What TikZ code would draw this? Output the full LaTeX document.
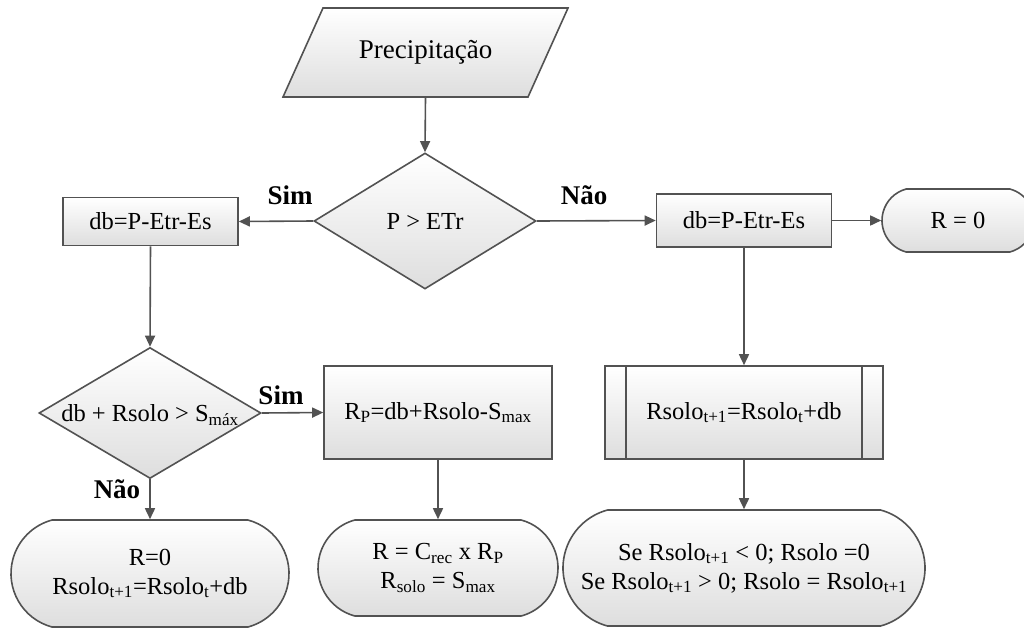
\documentclass[tikz,border=0pt]{standalone}
\usepackage{fontspec}
\setmainfont{Liberation Serif}
\usetikzlibrary{shapes.geometric,shapes.misc,arrows.meta}
\newcommand{\sbs}[1]{\textsubscript{#1}}
\begin{document}
\begin{tikzpicture}[x=1pt,y=-1pt,
  ln/.style={draw=black!68, line width=1.6pt},
  grad/.style={top color=white, bottom color=black!13},
  txt/.style={font=\fontsize{24.5}{29}\selectfont, align=center},
  box/.style={grad, ln, rectangle, inner sep=0pt, txt},
  term/.style={grad, ln, rounded rectangle, rounded rectangle arc length=150, inner sep=0pt, txt},
  dec/.style={grad, ln, diamond, inner sep=0pt},
  arr/.style={ln, -{Triangle[length=11pt,width=10pt]}},
  lbl/.style={font=\bfseries\fontsize{27}{30}\selectfont, anchor=base}
]
\useasboundingbox (0,0) rectangle (1024,632);
\clip (0,0) rectangle (1024,632);

% input parallelogram
\path[grad, ln] (283,97) -- (323,8) -- (568,8) -- (528,97) -- cycle;
\node[txt, font=\fontsize{27}{30}\selectfont, minimum width=245pt, minimum height=89pt, inner sep=0pt] (par) at (425.5,52.5) {Precipitação};

% decisions
\node[dec, minimum width=222pt, minimum height=136pt] (d1) at (425,221) {};
\node[txt] (d1t) at (d1) {P > ETr};
\node[dec, minimum width=222pt, minimum height=131pt] (d2) at (150,413) {};
\node[txt] (d2t) at (150,415) {db + Rsolo > S\sbs{máx}};

% process boxes
\node[box, minimum width=175pt, minimum height=48pt] (b1) at (150.5,221.5) {db=P-Etr-Es};
\node[box, minimum width=175pt, minimum height=53pt] (b2) at (744,220.5) {db=P-Etr-Es};
\node[box, minimum width=228pt, minimum height=93pt] (rp) at (438,412.5) {R\sbs{P}=db+Rsolo-S\sbs{max}};
\node[box, minimum width=278pt, minimum height=93pt] (sub) at (744,412.5) {Rsolo\sbs{t+1}=Rsolo\sbs{t}+db};
\draw[ln] ([xshift=22pt]sub.north west) -- ([xshift=22pt]sub.south west);
\draw[ln] ([xshift=-22pt]sub.north east) -- ([xshift=-22pt]sub.south east);

% terminals
\node[term, minimum width=152pt, minimum height=63pt] (r0) at (958,220.5) {R = 0};
\node[term, minimum width=278pt, minimum height=107pt] (t1) at (150,573.5) {R=0\\Rsolo\sbs{t+1}=Rsolo\sbs{t}+db};
\node[term, minimum width=240pt, minimum height=96pt] (t2) at (438,568) {R = C\sbs{rec} x R\sbs{P}\\R\sbs{solo} = S\sbs{max}};
\node[term, minimum width=362pt, minimum height=116pt] (t3) at (744,568) {Se Rsolo\sbs{t+1} < 0; Rsolo =0\\Se Rsolo\sbs{t+1} > 0; Rsolo = Rsolo\sbs{t+1}};

% connectors
\draw[arr] (par.south) -- (d1.north);
\draw[arr] (d1.west) -- (b1.east);
\draw[arr] (d1.east) -- (b2.west);
\draw[arr] (b2.east) -- (r0.west);
\draw[arr] (b1.south) -- (d2.north);
\draw[arr] (d2.east) -- (rp.west);
\draw[arr] (d2.south) -- (t1.north);
\draw[arr] (rp.south) -- (t2.north);
\draw[arr] (b2.south) -- (sub.north);
\draw[arr] (sub.south) -- (t3.north);

% labels
\node[lbl] (s1) at (290,204) {Sim};
\node[lbl] (n1) at (584,204) {Não};
\node[lbl] (s2) at (281,404) {Sim};
\node[lbl] (n2) at (117,498) {Não};
\end{tikzpicture}
\end{document}
